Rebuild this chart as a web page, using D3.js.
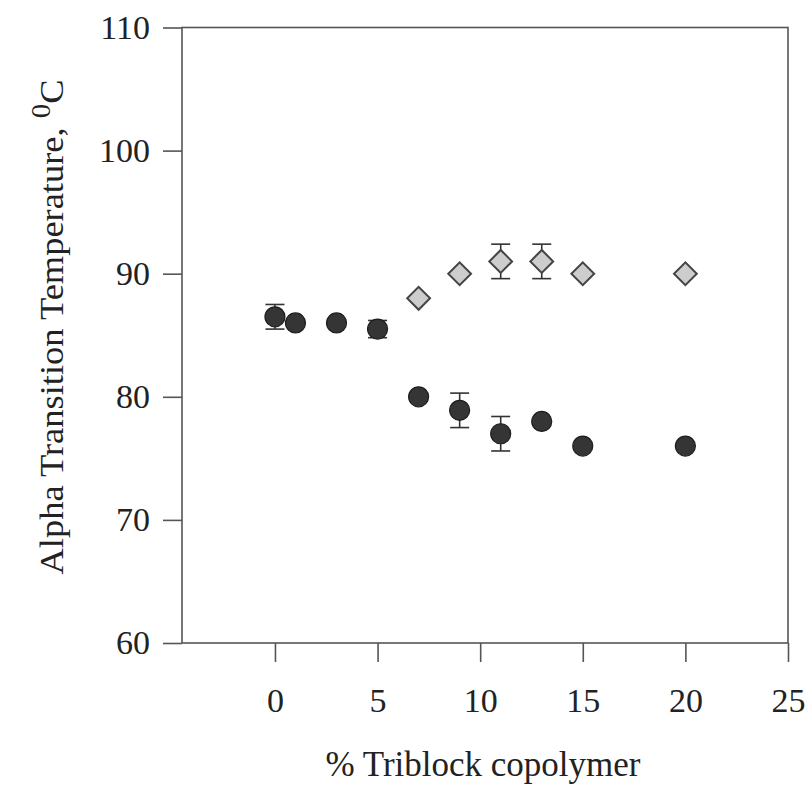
<!DOCTYPE html>
<html>
<head>
<meta charset="utf-8">
<script src="https://cdn.jsdelivr.net/npm/d3@7"></script>
<style>
  body { margin: 0; background: #fff; }
  text { font-family: "Liberation Serif", "Times New Roman", serif; fill: #222; }
</style>
</head>
<body>
<div id="chart"></div>
<script>
// data
var circleX   = [0, 1, 3, 5, 7, 9, 11, 13, 15, 20];
var circleY   = [86.5, 86, 86, 85.5, 80, 78.9, 77, 78, 76, 76];
var circleErr = [1.0, 0, 0, 0.7, 0, 1.4, 1.4, 0, 0, 0];

var diamondX   = [7, 9, 11, 13, 15, 20];
var diamondY   = [88, 90, 91, 91, 90, 90];
var diamondErr = [0, 0, 1.4, 1.4, 0, 0];

var xTicks = [0, 5, 10, 15, 20, 25];
var yTicks = [60, 70, 80, 90, 100, 110];

var svgWidth = 808;
var svgHeight = 785;

var margin = { top: 27.5, right: 20, bottom: 142, left: 182 };
var chartWidth = svgWidth - margin.left - margin.right;   // 606
var chartHeight = svgHeight - margin.top - margin.bottom; // 615.5

var svg = d3.select("#chart").append("svg")
  .attr("width", svgWidth)
  .attr("height", svgHeight);

var chartGroup = svg.append("g")
  .attr("transform", `translate(${margin.left}, ${margin.top})`);

var xScale = d3.scaleLinear()
  .domain([-4.53, 25])
  .range([0, 606]);

var yScale = d3.scaleLinear()
  .domain([60, 110])
  .range([chartHeight, 0]);

var axisColor = "#555";

// frame
chartGroup.append("rect")
  .attr("x", 0).attr("y", 0)
  .attr("width", xScale(25)).attr("height", chartHeight)
  .attr("fill", "none")
  .attr("stroke", axisColor)
  .attr("stroke-width", 1.6);

var xAxis = d3.axisBottom(xScale)
  .tickValues(xTicks)
  .tickSize(19)
  .tickPadding(26)
  .tickSizeOuter(0);
var yAxis = d3.axisLeft(yScale)
  .tickValues(yTicks)
  .tickSize(19)
  .tickPadding(13)
  .tickSizeOuter(0);

var gx = chartGroup.append("g")
  .attr("transform", `translate(0, ${chartHeight})`)
  .call(xAxis);
var gy = chartGroup.append("g")
  .call(yAxis);

[gx, gy].forEach(function(g) {
  g.select(".domain").remove();
  g.selectAll(".tick line").attr("stroke", axisColor).attr("stroke-width", 1.6);
  g.selectAll(".tick text")
    .style("font-family", "'Liberation Serif', serif")
    .style("font-size", "34px")
    .attr("fill", "#2a2a2a");
});

// error bars
function drawErr(xs, ys, errs) {
  var rows = xs.map(function(x, i) { return { x: x, y: ys[i], e: errs[i] }; })
    .filter(function(d) { return d.e > 0; });
  var g = chartGroup.append("g")
    .attr("stroke", "#333")
    .attr("stroke-width", 1.6);
  rows.forEach(function(d) {
    var cx = xScale(d.x);
    g.append("line")
      .attr("x1", cx).attr("x2", cx)
      .attr("y1", yScale(d.y + d.e)).attr("y2", yScale(d.y - d.e));
    [d.y + d.e, d.y - d.e].forEach(function(v) {
      g.append("line")
        .attr("x1", cx - 9.5).attr("x2", cx + 9.5)
        .attr("y1", yScale(v)).attr("y2", yScale(v));
    });
  });
}
drawErr(circleX, circleY, circleErr);
drawErr(diamondX, diamondY, diamondErr);

// circles
chartGroup.selectAll("circle.pt")
  .data(circleX)
  .enter()
  .append("circle")
  .attr("class", "pt")
  .attr("cx", d => xScale(d))
  .attr("cy", (d, i) => yScale(circleY[i]))
  .attr("r", 10)
  .attr("fill", "#353535")
  .attr("stroke", "#1e1e1e")
  .attr("stroke-width", 1.2);

// diamonds
var diamond = d3.symbol().type(d3.symbolSquare).size(260);
chartGroup.selectAll("path.dm")
  .data(diamondX)
  .enter()
  .append("path")
  .attr("class", "dm")
  .attr("d", diamond)
  .attr("transform", (d, i) => `translate(${xScale(d)}, ${yScale(diamondY[i])}) rotate(45)`)
  .attr("fill", "#cdcdcd")
  .attr("stroke", "#444")
  .attr("stroke-width", 2);

// axis titles
svg.append("text")
  .attr("x", 483)
  .attr("y", 776)
  .attr("text-anchor", "middle")
  .style("font-size", "35px")
  .text("% Triblock copolymer");

var yLabel = svg.append("text")
  .attr("transform", "translate(63, 327) rotate(-90)")
  .attr("text-anchor", "middle")
  .attr("textLength", 495)
  .attr("lengthAdjust", "spacingAndGlyphs")
  .style("font-size", "34px");
yLabel.append("tspan").text("Alpha Transition Temperature, ");
yLabel.append("tspan").attr("dy", -13).style("font-size", "27px").text("0");
yLabel.append("tspan").attr("dy", 13).text("C");
</script>
</body>
</html>
